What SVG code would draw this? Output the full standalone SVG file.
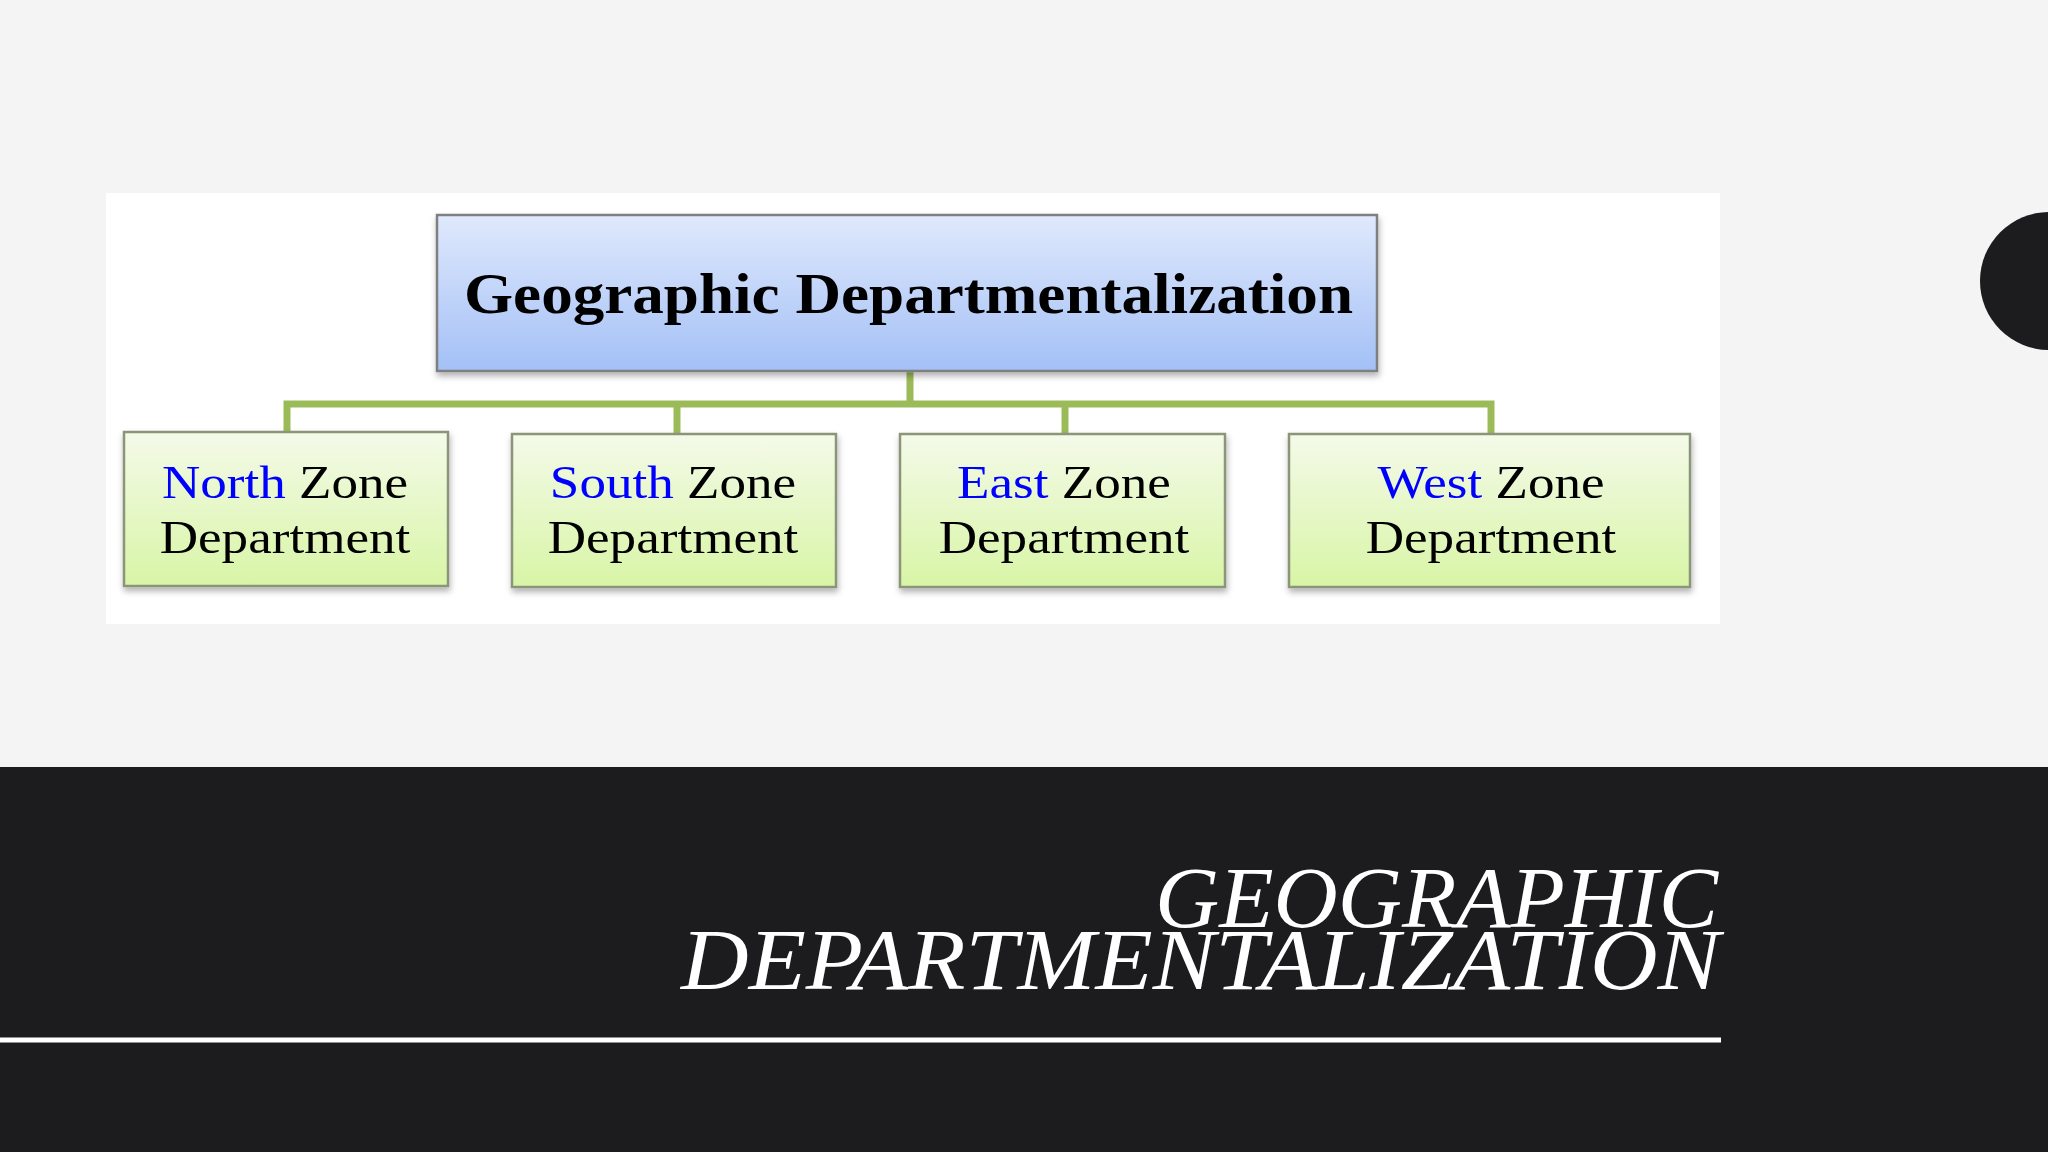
<svg xmlns="http://www.w3.org/2000/svg" width="2048" height="1152" viewBox="0 0 2048 1152">
<defs>
<linearGradient id="gBlue" x1="0" y1="0" x2="0" y2="1">
<stop offset="0" stop-color="#e0e9fc"/>
<stop offset="1" stop-color="#a3c0f6"/>
</linearGradient>
<linearGradient id="gGreen" x1="0" y1="0" x2="0" y2="1">
<stop offset="0" stop-color="#f4fae9"/>
<stop offset="1" stop-color="#d8f5a6"/>
</linearGradient>
<filter id="sh" x="-5%" y="-10%" width="110%" height="130%">
<feDropShadow dx="1" dy="4" stdDeviation="3" flood-color="#000" flood-opacity="0.3"/>
</filter>
</defs>
<style>
.top{fill:url(#gBlue);stroke:#7f7f7f;stroke-width:2.5}
.child{fill:url(#gGreen);stroke:#8a9579;stroke-width:2.5}
.conn{fill:none;stroke:#9bbb59;stroke-width:7;stroke-linejoin:miter}
.tt{font-family:"Liberation Serif","Times New Roman",serif;font-weight:bold;font-size:57px;fill:#000}
.ct{font-family:"Liberation Serif","Times New Roman",serif;font-size:47px;fill:#000;text-anchor:middle}
.blue{fill:#0000ff}
.title{font-family:"Liberation Serif","Times New Roman",serif;font-style:italic;font-size:86px;fill:#ffffff;text-anchor:end}
</style>
<rect x="0" y="0" width="2048" height="1152" fill="#f4f4f5"/>
<rect x="0" y="767" width="2048" height="385" fill="#1c1b1e"/>
<rect x="1980" y="212" width="200" height="138" rx="69" fill="#1c1b1e"/>
<rect x="0" y="1037.5" width="1721" height="5" fill="#ffffff"/>
<text class="title" x="1718" y="927" textLength="563" lengthAdjust="spacingAndGlyphs">GEOGRAPHIC</text>
<text class="title" x="1720" y="989" textLength="1039" lengthAdjust="spacingAndGlyphs">DEPARTMENTALIZATION</text>
<rect x="106" y="193" width="1614" height="431" fill="#ffffff"/>
<g id="connectors">
<path class="conn" d="M910 372 V404"/>
<path class="conn" d="M287 432 V404 H1491 V433"/>
<path class="conn" d="M677 404 V434"/>
<path class="conn" d="M1065 404 V434"/>
</g>
<g id="root">
<rect class="top" x="437" y="215" width="940" height="156" filter="url(#sh)"/>
<text class="tt" x="464" y="313" textLength="889" lengthAdjust="spacingAndGlyphs">Geographic Departmentalization</text>
</g>
<g id="north">
<rect class="child" x="124" y="432" width="324" height="154" filter="url(#sh)"/>
<g transform="translate(285,0) scale(1.13,1)">
<text class="ct" x="0" y="498"><tspan class="blue">North</tspan> Zone</text>
<text class="ct" x="0" y="553">Department</text>
</g>
</g>
<g id="south">
<rect class="child" x="512" y="434" width="324" height="153" filter="url(#sh)"/>
<g transform="translate(673,0) scale(1.13,1)">
<text class="ct" x="0" y="498"><tspan class="blue">South</tspan> Zone</text>
<text class="ct" x="0" y="553">Department</text>
</g>
</g>
<g id="east">
<rect class="child" x="900" y="434" width="325" height="153" filter="url(#sh)"/>
<g transform="translate(1064,0) scale(1.13,1)">
<text class="ct" x="0" y="498"><tspan class="blue">East</tspan> Zone</text>
<text class="ct" x="0" y="553">Department</text>
</g>
</g>
<g id="west">
<rect class="child" x="1289" y="434" width="401" height="153" filter="url(#sh)"/>
<g transform="translate(1491,0) scale(1.13,1)">
<text class="ct" x="0" y="498"><tspan class="blue">West</tspan> Zone</text>
<text class="ct" x="0" y="553">Department</text>
</g>
</g>
</svg>
